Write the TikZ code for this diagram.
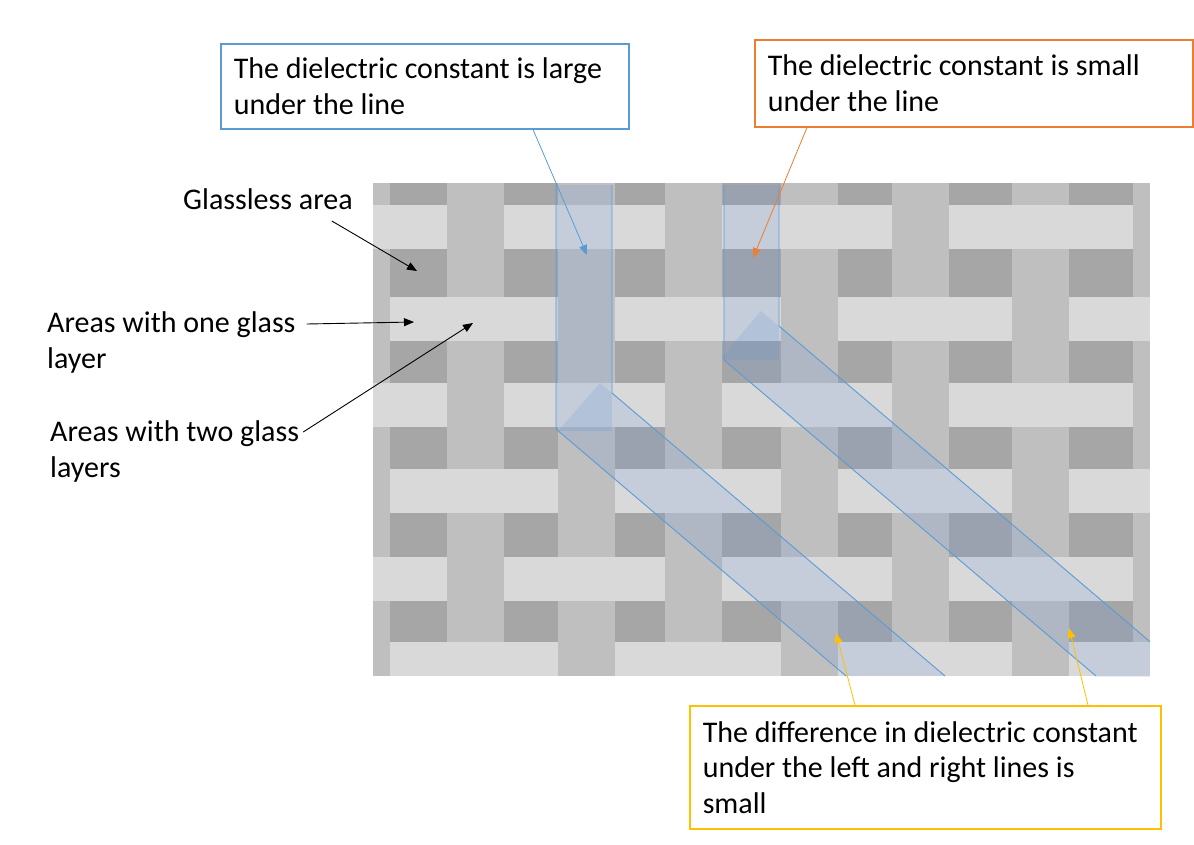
\documentclass[tikz,border=0pt]{standalone}
\usepackage{fontspec}
\setmainfont{Carlito}
\usetikzlibrary{arrows.meta}

\definecolor{glassless}{RGB}{166,166,166}
\definecolor{weft}{RGB}{217,217,217}
\definecolor{warp}{RGB}{191,191,191}
\definecolor{lineblue}{RGB}{91,155,213}
\definecolor{lineorange}{RGB}{237,125,49}
\definecolor{linegold}{RGB}{255,192,0}
\definecolor{bandfill}{RGB}{80,140,220}

\begin{document}
\begin{tikzpicture}[x=1pt,y=-1pt,
        font=\fontsize{30}{35.5}\selectfont,
        >={Triangle[length=10pt,width=8pt]},
        note/.style={inner sep=0pt,align=left,anchor=base west},
        textbox/.style={line width=1.5pt,inner xsep=13pt,anchor=north west,align=left,
            execute at begin node={\spaceskip=0pt\xspaceskip=0pt\hyphenpenalty=10000}},
        band/.style={fill=bandfill,fill opacity=0.15},
        bandedge/.style={draw=lineblue,line width=0.9pt}]
\useasboundingbox (0,0) rectangle (1194,844);

% woven glass cloth
\fill[glassless] (373,183) rectangle (1150,676);
\foreach \y in {205,297,383,469,557}
    \fill[weft] (373,\y) rectangle (1150,\y+44);
\fill[weft] (373,642) rectangle (1150,676);
\foreach \x/\w in {447/57,665/57,892/57,1133/17}
    \foreach \a/\b in {183/297,341/469,513/642}
        \fill[warp] (\x,\a) rectangle (\x+\w,\b);
\foreach \x/\w in {373/17,558/57,781/57,1012/57}
    \foreach \a/\b in {183/205,249/383,427/557,601/676}
        \fill[warp] (\x,\a) rectangle (\x+\w,\b);

% the two lines
\begin{scope}
    \clip (373,183) rectangle (1150,676);
    \fill[band] (556,185) rectangle (612,431);
    \fill[band] (600,383) -- (558,431) -- (846,676) -- (945,676) -- cycle;
    \fill[band] (724,185) rectangle (779,360);
    \fill[band] (761,311) -- (721.3,357.6) -- ++(500,425) -- ++(39.7,-46.6) -- cycle;
\end{scope}
\draw[bandedge] (556,185) -- (556,429) -- (846,676);
\draw[bandedge] (612,185) -- (612,393) -- (945,676);
\draw[bandedge] (724,185) -- (724,360) -- (1096,676);
\draw[bandedge] (779,185) -- (779,326) -- (1150,641.7);

% labels
\node[note] (glassless) at (183,209) {Glassless area};
\node[note] (onelayer) at (47,368) {Areas with one glass\\layer};
\node[note] (twolayer) at (50,477) {Areas with two glass\\layers};

\node[textbox,draw=lineblue,text width=382pt,minimum height=85pt] (large) at (220,43)
    {The dielectric constant is large\\under the line};
\node[textbox,draw=lineorange,text width=412pt,minimum height=87pt] (small) at (754,39)
    {The dielectric constant is small\\under the line};
\node[textbox,draw=linegold,text width=445pt,minimum height=123pt] (diff) at (689,705)
    {The difference in dielectric constant\\under the left and right lines is\\small};

% arrows
\coordinate (glassless tip) at (417,271);
\coordinate (onelayer tip) at (414,322);
\coordinate (twolayer tip) at (473,323);
\coordinate (large tip) at (587,255);
\coordinate (small tip) at (753,258);
\coordinate (left tip) at (836,633);
\coordinate (right tip) at (1069,628);

\draw[->,line width=0.9pt] ([xshift=-21pt,yshift=-12pt]glassless.base east) -- (glassless tip);
\draw[->,line width=0.9pt] ([xshift=11pt,yshift=44pt]onelayer.base east) -- (onelayer tip);
\draw[->,line width=0.9pt] ([xshift=4pt,yshift=45pt]twolayer.base east) -- (twolayer tip);
\draw[->,lineblue,line width=0.8pt] ([xshift=313pt]large.south west) -- (large tip);
\draw[->,lineorange,line width=0.8pt] ([xshift=53pt]small.south west) -- (small tip);
\draw[->,linegold,line width=0.8pt] ([xshift=166pt]diff.north west) -- (left tip);
\draw[->,linegold,line width=0.8pt] ([xshift=399pt]diff.north west) -- (right tip);
\end{tikzpicture}
\end{document}
